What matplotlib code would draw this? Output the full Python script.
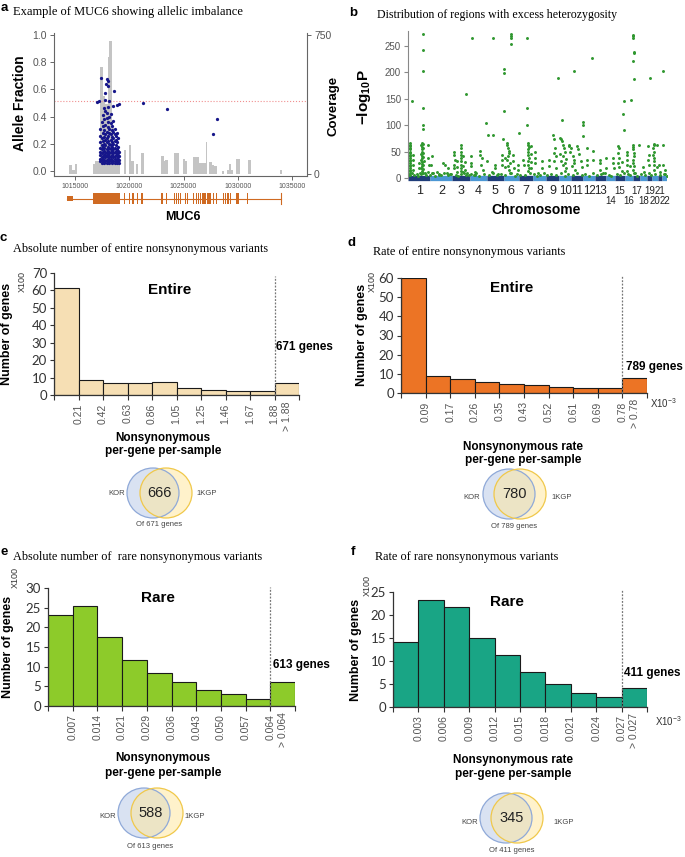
import matplotlib
matplotlib.use('Agg')
import matplotlib.pyplot as plt
from matplotlib.patches import Ellipse, Rectangle
import numpy as np

plt.rcParams['mathtext.fontset'] = 'custom'
plt.rcParams['mathtext.rm'] = 'Liberation Sans'
plt.rcParams['mathtext.bf'] = 'Liberation Sans:bold'

W, H = 685, 857
fig = plt.figure(figsize=(W / 100, H / 100), dpi=100)
SERIF = 'Liberation Serif'
SANS = 'Liberation Sans'
NUM = 'Lato'


def rect(l, t, r, b):
    return [l / W, 1 - b / H, (r - l) / W, (b - t) / H]


def ftext(x, y, s, **kw):
    kw.setdefault('ha', 'center')
    kw.setdefault('va', 'center')
    return fig.text(x / W, 1 - y / H, s, **kw)

# ---------------------------------------------------------------- data (a)
cov_start = [1014444, 1014691, 1015000, 1016636, 1016883, 1017315, 1017562, 1017778, 1017994,
             1018148, 1018395, 1018611, 1019475, 1019970, 1020185, 1020618, 1021112, 1022933,
             1023180, 1023334, 1024167, 1024939, 1025124, 1025896, 1026421, 1027038, 1027378,
             1027625, 1027810, 1028582, 1028983, 1029199, 1029353, 1029878, 1030958, 1033860]
cov_end = [1014691, 1015000, 1015216, 1016883, 1017315, 1017562, 1017778, 1017994, 1018148,
           1018395, 1018611, 1019167, 1019723, 1020185, 1020401, 1020803, 1021327, 1023180,
           1023334, 1023550, 1024600, 1025124, 1025340, 1026421, 1027038, 1027193, 1027625,
           1027810, 1028119, 1028767, 1029199, 1029353, 1029569, 1030217, 1031267, 1034106]
cov_height = [50, 23, 54, 56, 68, 576, 420, 380, 630, 716, 248, 68, 131, 158, 72, 54, 113, 95,
              68, 77, 113, 81, 68, 92, 59, 173, 65, 50, 41, 18, 23, 54, 23, 81, 74, 23]

af_out_pos = [1017377, 1017932, 1017994, 1017870, 1018020, 1018550, 1017778, 1017006, 1017191,
              1018087, 1018858, 1018488, 1019012, 1021266, 1023500, 1028120, 1027717]
af_out_val = [0.685, 0.68, 0.66, 0.64, 0.623, 0.59, 0.574, 0.507, 0.517, 0.517, 0.488, 0.478,
              0.493, 0.502, 0.453, 0.384, 0.271]
blob_cols = [1017330, 1017440, 1017560, 1017680, 1017800, 1017920, 1018040, 1018160, 1018280,
             1018400, 1018520, 1018640, 1018760, 1018880, 1019000, 1019090]
blob_vals = [[0.07, 0.09, 0.12, 0.14, 0.17, 0.21, 0.26, 0.31],
             [0.06, 0.08, 0.10, 0.13, 0.16, 0.19, 0.24, 0.36],
             [0.07, 0.09, 0.11, 0.14, 0.18, 0.22, 0.28, 0.33, 0.41],
             [0.06, 0.08, 0.12, 0.15, 0.17, 0.20, 0.25, 0.30, 0.38, 0.46],
             [0.07, 0.10, 0.12, 0.14, 0.19, 0.23, 0.27, 0.34, 0.44, 0.52],
             [0.06, 0.08, 0.11, 0.13, 0.16, 0.21, 0.24, 0.29, 0.39, 0.43],
             [0.07, 0.09, 0.12, 0.15, 0.18, 0.22, 0.26, 0.32, 0.36, 0.47],
             [0.06, 0.08, 0.10, 0.13, 0.17, 0.20, 0.28, 0.31, 0.40],
             [0.07, 0.09, 0.11, 0.14, 0.16, 0.19, 0.23, 0.27, 0.35, 0.42],
             [0.06, 0.08, 0.12, 0.15, 0.18, 0.21, 0.25, 0.30, 0.33],
             [0.07, 0.10, 0.13, 0.16, 0.20, 0.24, 0.29, 0.37],
             [0.06, 0.09, 0.11, 0.14, 0.17, 0.22, 0.27, 0.31],
             [0.07, 0.08, 0.12, 0.15, 0.19, 0.23, 0.26],
             [0.06, 0.09, 0.11, 0.13, 0.16, 0.21, 0.28],
             [0.07, 0.10, 0.12, 0.15, 0.18, 0.24],
             [0.06, 0.08, 0.11, 0.14]]
af_threshold = 0.515

gene_start, gene_end = 1014228, 1033983
utr_box = (1014228, 1014846)
big_exon = (1016697, 1019105)
exon_pos = [1019568, 1020000, 1020340, 1020772, 1021173, 1023025, 1023396, 1024198, 1024353,
            1024569, 1024723, 1025186, 1025340, 1025957, 1026173, 1026359, 1026575, 1026729,
            1026884, 1027038, 1027192, 1027347, 1027501, 1027748, 1028026, 1028674, 1028890,
            1029106, 1029353, 1029878, 1030032, 1030897]
mut_ticks = [1015000, 1020000, 1025000, 1030000, 1035000]

# ---------------------------------------------------------------- data (b)
chrom_len = [249, 243, 198, 191, 181, 171, 159, 146, 141, 136, 135, 134, 115, 107, 103, 90,
             81, 78, 59, 63, 48, 51]
chrom_names = [str(i) for i in range(1, 23)]
hz_pos = [
    # high peaks
    45, 163, 163, 163, 163, 168, 168, 645, 708, 864, 889, 944, 942, 1057, 1142, 1142, 1142,
    1142, 1062, 1062, 1068, 1235, 1327, 1327, 1327, 1665, 1717, 1850, 1950, 1950, 2043, 1942,
    2395, 2406, 2406, 2480, 2505, 2505, 2505, 2508, 2516, 2505, 2514, 2692, 2840,
    # chr1
    18, 20, 22, 18, 21, 23, 19, 22, 20, 24, 18, 21, 23, 19, 22, 20, 17, 24, 21, 19,
    59, 57, 60, 58, 126, 124, 128,
    152, 150, 154, 151, 153, 149, 155, 152, 150, 154, 151, 153, 150, 152, 154,
    170, 172, 169, 171, 173, 170, 168, 172, 226, 224, 228, 226, 263, 261, 265,
    # chr2 / chr3
    319, 350, 385, 411, 430, 449, 470,
    515, 515, 517, 513, 516, 541, 543, 540, 586, 588, 584, 587, 585, 589, 586, 584, 588, 586,
    608, 606, 610, 634, 632, 660, 680,
    # chr4 / chr5
    697, 699, 695, 801, 803, 819, 817, 882, 745, 748, 838, 968, 966, 930, 1042, 1040, 1044, 1005,
    # chr6 / chr7 / chr8
    1097, 1105, 1112, 1120, 1127, 1116, 1103, 1130, 1110, 1122, 1134, 1171, 1169, 1173, 1227,
    1225, 1079, 1081, 1283, 1285, 1338, 1336, 1340, 1337, 1339, 1335, 1341, 1338, 1336, 1340,
    1338, 1364, 1366, 1362, 1365, 1412, 1414, 1410, 1487, 1485, 1450,
    # chr9 / chr10 / chr11
    1572, 1570, 1613, 1618, 1630, 1625, 1640, 1620, 1645,
    1690, 1700, 1712, 1722, 1735, 1745, 1695, 1728, 1755, 1705, 1740, 1718, 1760, 1750,
    1785, 1795, 1810, 1800, 1830, 1840, 1850, 1820, 1857, 1876, 1890, 1905, 1920, 1931,
    # chr12 - chr16
    1987, 1985, 1989, 2054, 2052, 2135, 2133, 2137, 2172, 2202, 2204, 2283, 2281, 2285,
    2339, 2341, 2337, 2340, 2338, 2342, 2376, 2378, 2432, 2434, 2430, 2433, 2431, 2469,
    # chr17 - chr22
    2496, 2500, 2504, 2508, 2512, 2498, 2506, 2510, 2502, 2514, 2573, 2617, 2619,
    2673, 2675, 2671, 2674, 2729, 2731, 2727, 2730, 2728, 2732, 2729, 2731, 2730, 2765, 2767,
    2795, 2797, 2832, 2834, 2858, 2860,
    # baseline fringe
    10, 40, 70, 95, 110, 140, 185, 205, 240, 280, 300, 340, 370, 400, 440, 480, 530, 560,
    620, 650, 700, 730, 760, 790, 840, 900, 950, 990, 1030, 1075, 1150, 1190, 1210, 1250,
    1300, 1360, 1400, 1430, 1470, 1510, 1550, 1590, 1650, 1700, 1740, 1780, 1830, 1880,
    1930, 1970, 2010, 2060, 2100, 2150, 2190, 2230, 2260, 2320, 2360, 2400, 2440, 2470,
    2520, 2550, 2590, 2640, 2680, 2700, 2750, 2800, 2850, 2875]
hz_val = [
    145, 273, 243, 203, 133, 100, 92, 159, 266, 105, 82, 82, 266, 73, 273, 269, 265, 254, 207,
    199, 127, 86, 266, 133, 100, 189, 109, 202, 106, 101, 228, 79, 121, 146, 91, 148, 271, 268,
    265, 237, 238, 221, 187, 189, 202,
    66, 63, 60, 57, 54, 50, 47, 44, 41, 38, 35, 32, 28, 25, 22, 19, 16, 13, 10, 6,
    44, 35, 25, 16, 28, 19, 10,
    66, 62, 58, 55, 50, 46, 42, 38, 34, 30, 26, 22, 18, 14, 10,
    64, 57, 48, 40, 33, 25, 17, 9, 63, 38, 25, 12, 41, 24, 10,
    12, 6, 28, 25, 10, 18, 8,
    50, 44, 35, 25, 18, 32, 20, 12, 63, 57, 50, 44, 38, 32, 25, 19, 13, 7,
    41, 22, 12, 30, 15, 10, 6,
    41, 28, 22, 52, 44, 38, 25, 32, 12, 6, 15, 25, 19, 12, 44, 35, 25, 8,
    66, 62, 57, 52, 47, 41, 35, 28, 22, 16, 10, 44, 32, 19, 25,
    16, 38, 20, 35, 25, 66, 63, 59, 55, 50, 44, 38, 32, 25, 19,
    13, 60, 45, 30, 18, 50, 38, 28, 32, 19, 10,
    35, 22, 81, 73, 57, 47, 41, 32, 19,
    76, 73, 70, 63, 57, 50, 45, 41, 36, 32, 28, 25, 19, 14,
    63, 60, 57, 50, 41, 35, 28, 22, 16, 60, 55, 46, 33, 20,
    57, 35, 25, 52, 35, 35, 28, 16, 10, 38, 19, 37, 28, 19,
    60, 57, 47, 38, 28, 20, 30, 14, 50, 44, 35, 25, 13, 22,
    63, 58, 54, 47, 41, 35, 28, 22, 16, 10, 62, 20, 12,
    60, 44, 35, 25, 65, 62, 57, 50, 44, 38, 32, 25, 16, 63, 20,
    25, 12, 63, 25, 15, 8,
    6, 9, 5, 8, 4, 7, 10, 6, 5, 9, 4, 7, 6, 10, 5, 8, 6, 4,
    9, 5, 7, 6, 10, 4, 8, 5, 9, 6, 7, 5, 10, 4, 8, 6,
    5, 9, 7, 4, 6, 10, 5, 8, 6, 9, 4, 7, 5, 10,
    6, 8, 4, 9, 5, 7, 10, 6, 4, 8, 5, 9, 7, 6,
    10, 4, 8, 5, 9, 6, 7, 5, 8, 4]

# ---------------------------------------------------------------- data (c-f)
c_counts = [61.5, 8.4, 6.7, 6.7, 7.6, 4.2, 2.9, 2.2, 2.2, 6.9]
c_labels = ['0.21', '0.42', '0.63', '0.86', '1.05', '1.25', '1.46', '1.67', '1.88', '> 1.88']
d_counts = [60, 9.1, 7.2, 5.5, 4.8, 4.1, 3.3, 2.6, 2.4, 7.9]
d_labels = ['0.09', '0.17', '0.26', '0.35', '0.43', '0.52', '0.61', '0.69', '0.78', '> 0.78']
e_counts = [23.2, 25.5, 17.6, 11.8, 8.4, 6.2, 4.0, 3.0, 1.9, 6.1]
e_labels = ['0.007', '0.014', '0.021', '0.029', '0.036', '0.043', '0.050', '0.057', '0.064',
            '> 0.064']
f_counts = [14.1, 23.3, 21.7, 15.0, 11.2, 7.7, 5.1, 3.0, 2.1, 4.1]
f_labels = ['0.003', '0.006', '0.009', '0.012', '0.015', '0.018', '0.021', '0.024', '0.027',
            '> 0.027']
outlier_genes = [671, 789, 613, 411]
venn_shared = [666, 780, 588, 345]

# ================================================================ panel a
ax_a = fig.add_axes(rect(54, 33, 307, 176))
ax_cov = ax_a.twinx()
ax_a.set_zorder(ax_cov.get_zorder() + 1)
ax_a.patch.set_visible(False)
xl = (1013056, 1036389)
ax_cov.bar(cov_start, cov_height, width=np.array(cov_end) - np.array(cov_start), align='edge',
           color='#c4c4c4', edgecolor='none')
ax_cov.set_ylim(-10.8, 760.8)
ax_cov.set_yticks([0, 750])
ax_cov.set_yticklabels(['0', '750'], fontsize=7.5, color='#555', family=SANS)
ax_a.set_xlim(*xl)
ax_cov.set_xlim(*xl)
blob_x = [c for c, v in zip(blob_cols, blob_vals) for _ in v]
blob_y = [y for v in blob_vals for y in v]
ax_a.scatter(blob_x + af_out_pos, blob_y + af_out_val, s=5.5, color='#16168a', linewidths=0,
             zorder=3)
ax_a.axhline(af_threshold, color='#f09090', ls=':', lw=0.8)
ax_a.set_ylim(-0.0368, 1.0147)
ax_a.set_yticks([0, 0.2, 0.4, 0.6, 0.8, 1.0])
ax_a.set_yticklabels(['0.0', '0.2', '0.4', '0.6', '0.8', '1.0'], fontsize=7.5, color='#555',
                     family=SANS)
ax_a.set_xticks(mut_ticks)
ax_a.set_xticklabels([str(t) for t in mut_ticks], fontsize=5, color='#555', family=SANS)
for a in (ax_a, ax_cov):
    a.spines['top'].set_visible(False)
    for s in ('left', 'right', 'bottom'):
        a.spines[s].set_color('#666')
        a.spines[s].set_linewidth(0.8)
    a.tick_params(length=3, width=0.7, color='#666', pad=2)
ax_cov.spines['left'].set_visible(False)
ax_a.spines['right'].set_visible(False)
ax_cov.spines['bottom'].set_visible(False)

ax_g = fig.add_axes(rect(54, 190, 307, 207))
ax_g.set_xlim(*xl)
ax_g.set_ylim(-1, 1)
ax_g.axis('off')
gcol = '#cf6a22'
ax_g.plot([gene_start, gene_end], [0, 0], color=gcol, lw=0.8)
ax_g.add_patch(Rectangle((utr_box[0], -0.35), utr_box[1] - utr_box[0], 0.7, color=gcol, lw=0))
ax_g.add_patch(Rectangle((big_exon[0], -0.65), big_exon[1] - big_exon[0], 1.3, color=gcol, lw=0))
ax_g.bar(exon_pos, 1.3, bottom=-0.65, width=110, color=gcol, linewidth=0)
ax_g.plot([gene_end, gene_end], [-0.65, 0.65], color=gcol, lw=0.8)

ftext(4, 8, 'a', fontsize=9.5, fontweight='bold', family=SANS)
ftext(13, 12, 'Example of MUC6 showing allelic imbalance', ha='left', fontsize=9, family=SERIF)
ftext(20, 103, 'Allele Fraction', rotation=90, fontsize=10, fontweight='bold', family=SANS)
ftext(333, 106, 'Coverage', rotation=90, fontsize=9.5, fontweight='bold', family=SANS)
ftext(183, 217, 'MUC6', fontsize=9, fontweight='bold', family=SANS)

# ================================================================ panel b
ax_b = fig.add_axes(rect(408, 31, 667, 183))
starts = np.concatenate([[0], np.cumsum(chrom_len)[:-1]])
total = float(np.sum(chrom_len))
for i, (s0, ln) in enumerate(zip(starts, chrom_len)):
    ax_b.plot([s0, s0 + ln], [0, 0], color='#1f3d7a' if i % 2 == 0 else '#4b97d4', lw=3.8,
              solid_capstyle='butt', zorder=1)
ax_b.scatter(hz_pos, hz_val, s=4.5, color='#2f972f', linewidths=0, zorder=2)
ax_b.set_xlim(0, total)
ax_b.set_ylim(-9.5, 278.4)
ax_b.set_xticks([])
ax_b.set_yticks([0, 50, 100, 150, 200, 250])
ax_b.set_yticklabels(['0', '50', '100', '150', '200', '250'], fontsize=7, color='#555',
                     family=SANS)
for s in ('top', 'right', 'bottom'):
    ax_b.spines[s].set_visible(False)
ax_b.spines['left'].set_color('#888')
ax_b.spines['left'].set_bounds(0, 278.4)
ax_b.tick_params(axis='y', length=3, color='#888', pad=2)
for i, (s0, ln) in enumerate(zip(starts, chrom_len)):
    cx = 408 + (s0 + ln / 2) / total * 259
    lower = i >= 13 and i % 2 == 1
    if i < 9:
        fs = 9
    elif i < 13:
        fs = 8.3
    else:
        fs = 7
    ftext(cx, 201 if lower else 191, chrom_names[i], fontsize=fs, color='#222', family=SANS)
ftext(353, 13, 'b', fontsize=9.5, fontweight='bold', family=SANS)
ftext(377, 15, 'Distribution of regions with excess heterozygosity', ha='left', fontsize=8.6,
      family=SERIF)
ftext(364, 97, r'$\mathbf{-log_{10}P}$', rotation=90, fontsize=11)
ftext(536, 210, 'Chromosome', fontsize=10, fontweight='bold', family=SANS)

# ================================================================ histograms


def hist_panel(box, counts, labels, color, ymax, ystep, dash_top, word, word_xy, genes,
               genes_xy):
    ax = fig.add_axes(rect(*box))
    n = len(counts)
    ax.bar(np.arange(n), counts, width=1, align='edge', color=color, edgecolor='#1a1a1a',
           linewidth=0.8)
    ax.set_xlim(0, n)
    ax.set_ylim(0, ymax)
    ax.set_xticks(np.arange(n + 1))
    ax.set_xticklabels([''] + labels[:-1] + [''], rotation=90, fontsize=7.5, color='#555',
                       family=SANS)
    ax.set_xticks([n - 0.5], minor=True)
    ax.set_xticklabels([labels[-1]], minor=True, rotation=90, fontsize=7.5, color='#555',
                       family=SANS)
    ax.tick_params(axis='x', which='minor', length=0, pad=4.5)
    ax.tick_params(axis='x', which='major', length=3.5, width=0.8, color='#333', pad=2.5)
    yt = np.arange(0, ymax + 0.1, ystep)
    ax.set_yticks(yt)
    ax.set_yticklabels([str(int(v)) for v in yt], fontsize=9.5, color='#333', family=NUM)
    ax.tick_params(axis='y', length=3, width=0.8, color='#333', pad=2)
    for s in ('top', 'right'):
        ax.spines[s].set_visible(False)
    for s in ('left', 'bottom'):
        ax.spines[s].set_color('#333')
        ax.spines[s].set_linewidth(0.9)
    ax.plot([n - 1, n - 1], [0, dash_top], color='#777', ls=(0, (1.5, 1.2)), lw=0.9,
            clip_on=False, zorder=3)
    ax.text(word_xy[0], word_xy[1], word, fontsize=11, fontweight='bold', family=SANS,
            ha='center', va='center')
    ax.text(genes_xy[0], genes_xy[1], f'{genes} genes', fontsize=8.5, fontweight='bold',
            family=SANS, ha='left', va='center')
    return ax


def venn(cb, cy_, cyel, num, tot, kor_x, kgp_x, lab_y, of_y):
    ov.add_patch(Ellipse((cb, cy_), 52, 50, facecolor='#b4c7e7', alpha=0.5, edgecolor='none'))
    ov.add_patch(Ellipse((cyel, cy_), 52, 50, facecolor='#ffe699', alpha=0.5, edgecolor='none'))
    ov.add_patch(Ellipse((cb, cy_), 52, 50, facecolor='none', edgecolor='#8fa9d8', lw=0.9))
    ov.add_patch(Ellipse((cyel, cy_), 52, 50, facecolor='none', edgecolor='#f0c84a', lw=0.9))
    ov.text((cb + cyel) / 2, cy_, str(num), fontsize=10.5, family=SANS, ha='center',
            va='center', color='#222')
    ov.text(kor_x, lab_y, 'KOR', fontsize=5.5, family=SANS, ha='center', va='center',
            color='#444')
    ov.text(kgp_x, lab_y, '1KGP', fontsize=5.5, family=SANS, ha='center', va='center',
            color='#444')
    ov.text((cb + cyel) / 2, of_y, f'Of {tot} genes', fontsize=5.5, family=SANS, ha='center',
            va='center', color='#444')


ov = fig.add_axes([0, 0, 1, 1], zorder=-1)
ov.set_xlim(0, W)
ov.set_ylim(H, 0)
ov.axis('off')

# c
hist_panel((54, 273, 299, 395), c_counts, c_labels, '#f6dfb4', 70, 10, 68, 'Entire',
           (4.73, 60), outlier_genes[0], (9.05, 27.6))
ftext(3, 238, 'c', fontsize=9.5, fontweight='bold', family=SANS)
ftext(13, 249, 'Absolute number of entire nonsynonymous variants', ha='left', fontsize=8.8,
      family=SERIF)
ftext(7, 334, 'Number of genes', rotation=90, fontsize=9, fontweight='bold', family=SANS)
ftext(22, 281, 'X100', rotation=90, fontsize=6.5, color='#333', family=SANS)
ftext(163, 438, 'Nonsynonymous', fontsize=8.5, fontweight='bold', family=SANS)
ftext(163, 451, 'per-gene per-sample', fontsize=8.5, fontweight='bold', family=SANS)
venn(153, 493, 166, venn_shared[0], outlier_genes[0], 117, 207, 493, 525)

# d
hist_panel((401, 278, 647, 393), d_counts, d_labels, '#ec7425', 60, 10, 61, 'Entire',
           (4.5, 55), outlier_genes[1], (9.15, 13.5))
ftext(352, 243, 'd', fontsize=9.5, fontweight='bold', family=SANS)
ftext(373, 252, 'Rate of entire nonsynonymous variants', ha='left', fontsize=8.8, family=SERIF)
ftext(362, 335, 'Number of genes', rotation=90, fontsize=9, fontweight='bold', family=SANS)
ftext(372, 282, 'X100', rotation=90, fontsize=6.5, color='#333', family=SANS)
ftext(650, 403, r'X10$^{-3}$', ha='left', fontsize=7, color='#333', family=SANS)
ftext(523, 447, 'Nonsynonymous rate', fontsize=8.5, fontweight='bold', family=SANS)
ftext(523, 460, 'per-gene per-sample', fontsize=8.5, fontweight='bold', family=SANS)
venn(509, 494, 520, venn_shared[1], outlier_genes[1], 472, 562, 497, 527)

# e
hist_panel((48, 588, 295, 706), e_counts, e_labels, '#8dcb2a', 30, 5, 30.3, 'Rare',
           (4.45, 27.5), outlier_genes[2], (9.1, 10.5))
ftext(4, 552, 'e', fontsize=9.5, fontweight='bold', family=SANS)
ftext(13, 557, 'Absolute number of  rare nonsynonymous variants', ha='left', fontsize=8.8,
      family=SERIF)
ftext(8, 647, 'Number of genes', rotation=90, fontsize=9, fontweight='bold', family=SANS)
ftext(15, 578, 'X100', rotation=90, fontsize=6.5, color='#333', family=SANS)
ftext(163, 758, 'Nonsynonymous', fontsize=8.5, fontweight='bold', family=SANS)
ftext(163, 773, 'per-gene per-sample', fontsize=8.5, fontweight='bold', family=SANS)
venn(144, 813, 157, venn_shared[2], outlier_genes[2], 108, 195, 817, 846)

# f
hist_panel((393, 592, 647, 707), f_counts, f_labels, '#19a585', 25, 5, 25.4, 'Rare',
           (4.49, 22.8), outlier_genes[3], (9.1, 7.4))
ftext(353, 552, 'f', fontsize=9.5, fontweight='bold', family=SANS)
ftext(375, 557, 'Rate of rare nonsynonymous variants', ha='left', fontsize=8.8, family=SERIF)
ftext(356, 650, 'Number of genes', rotation=90, fontsize=9, fontweight='bold', family=SANS)
ftext(367, 585, 'X100', rotation=90, fontsize=6.5, color='#333', family=SANS)
ftext(655, 721, r'X10$^{-3}$', ha='left', fontsize=7, color='#333', family=SANS)
ftext(513, 760, 'Nonsynonymous rate', fontsize=8.5, fontweight='bold', family=SANS)
ftext(513, 774, 'per-gene per-sample', fontsize=8.5, fontweight='bold', family=SANS)
venn(506, 818, 517, venn_shared[3], outlier_genes[3], 470, 564, 822, 851)

fig.savefig('out.png', dpi=100)
